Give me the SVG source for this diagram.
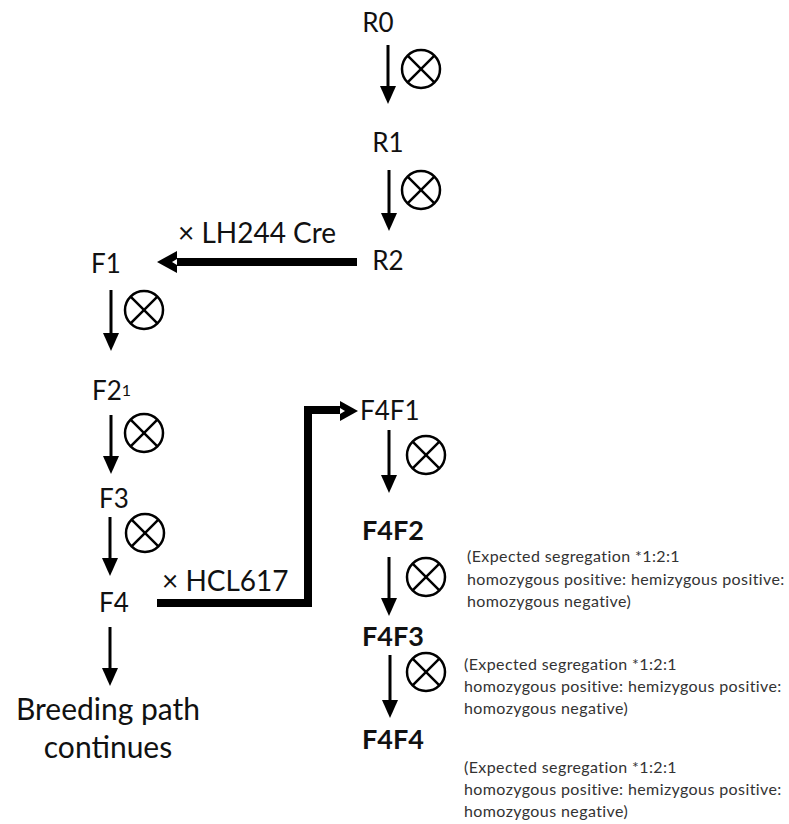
<svg xmlns="http://www.w3.org/2000/svg" width="789" height="824" viewBox="0 0 789 824">
<defs>
<style>
.lbl{font-family:Lato,"Open Sans","Liberation Sans",sans-serif;font-size:26px;fill:#111}
.bold{font-weight:bold;font-size:27px}
.big{font-size:30px}
.cross{font-size:28px}
.note{font-family:Lato,"Open Sans","Liberation Sans",sans-serif;font-size:16px;letter-spacing:0.4px;fill:#333}
.ln{stroke:#000;stroke-width:3;fill:none}
.thick{stroke:#000;stroke-width:8;fill:none}
.self circle{fill:none;stroke:#000;stroke-width:2.5}
.self line{stroke:#000;stroke-width:2.5}
</style>
<g id="otimes" class="self">
<circle cx="0" cy="0" r="19"/>
<line x1="-13.4" y1="-13.4" x2="13.4" y2="13.4"/>
<line x1="-13.4" y1="13.4" x2="13.4" y2="-13.4"/>
</g>
<path id="dn" d="M-8,-18 L8,-18 L0,0 z" fill="#000"/>
</defs>

<g id="R0"><text class="lbl" x="378" y="32" text-anchor="middle">R0</text></g>
<g id="R1"><text class="lbl" x="388" y="152" text-anchor="middle">R1</text></g>
<g id="R2"><text class="lbl" x="388" y="270" text-anchor="middle">R2</text></g>
<g id="F1"><text class="lbl" x="106" y="273" text-anchor="middle">F1</text></g>
<g id="F2"><text class="lbl" x="92" y="400">F2<tspan style="font-size:16px" dy="-4">1</tspan></text></g>
<g id="F3"><text class="lbl" x="114" y="508" text-anchor="middle">F3</text></g>
<g id="F4"><text class="lbl" x="114" y="612" text-anchor="middle">F4</text></g>
<g id="Breeding"><text class="lbl big" x="108" y="720" text-anchor="middle">Breeding path</text><text class="lbl big" x="108" y="758" text-anchor="middle">continues</text></g>
<g id="F4F1"><text class="lbl" x="360" y="420">F4F1</text></g>
<g id="F4F2"><text class="lbl bold" x="362" y="540">F4F2</text></g>
<g id="F4F3"><text class="lbl bold" x="362" y="646">F4F3</text></g>
<g id="F4F4"><text class="lbl bold" x="362" y="749">F4F4</text></g>

<g id="note1" class="note">
<text x="467" y="562">(Expected segregation *1:2:1</text>
<text x="467" y="585">homozygous positive: hemizygous positive:</text>
<text x="467" y="607">homozygous negative)</text>
</g>
<g id="note2" class="note">
<text x="464" y="670">(Expected segregation *1:2:1</text>
<text x="464" y="692">homozygous positive: hemizygous positive:</text>
<text x="464" y="714">homozygous negative)</text>
</g>
<g id="note3" class="note">
<text x="464" y="773">(Expected segregation *1:2:1</text>
<text x="464" y="795">homozygous positive: hemizygous positive:</text>
<text x="464" y="817">homozygous negative)</text>
</g>

<g id="connectors">
<line class="ln" x1="388" y1="45" x2="388" y2="88"/><use href="#dn" x="388" y="104"/>
<use href="#otimes" x="421" y="69"/>
<line class="ln" x1="389" y1="170" x2="389" y2="214"/><use href="#dn" x="389" y="231"/>
<use href="#otimes" x="421" y="190"/>
<line class="ln" x1="111" y1="290" x2="111" y2="334"/><use href="#dn" x="111" y="351"/>
<use href="#otimes" x="144" y="310"/>
<line class="ln" x1="111" y1="415" x2="111" y2="457"/><use href="#dn" x="111" y="474"/>
<use href="#otimes" x="144" y="433"/>
<line class="ln" x1="110" y1="517" x2="110" y2="559"/><use href="#dn" x="110" y="576"/>
<use href="#otimes" x="145" y="533"/>
<line class="ln" x1="110" y1="627" x2="110" y2="669"/><use href="#dn" x="110" y="686"/>
<line class="ln" x1="389" y1="430" x2="389" y2="476"/><use href="#dn" x="389" y="493"/>
<use href="#otimes" x="426" y="455"/>
<line class="ln" x1="389" y1="557" x2="389" y2="599"/><use href="#dn" x="389" y="616"/>
<use href="#otimes" x="426" y="577"/>
<line class="ln" x1="390" y1="655" x2="390" y2="701"/><use href="#dn" x="390" y="718"/>
<use href="#otimes" x="426" y="672"/>

<line class="thick" x1="357" y1="262" x2="174" y2="262"/>
<path d="M157,262 L177,251 L177,273 z" fill="#000"/>
<path d="M172,262 L177,259 L177,265 z" fill="#fff"/>
<text class="lbl cross" x="178" y="243">× LH244 Cre</text>

<polyline class="thick" points="157,603 308,603 308,410 342,410"/>
<path d="M358,411 L340,401 L340,421 z" fill="#000"/>
<path d="M345,411 L340,408 L340,414 z" fill="#fff"/>
<text class="lbl cross" x="162" y="591">× HCL617</text>
</g>
</svg>
